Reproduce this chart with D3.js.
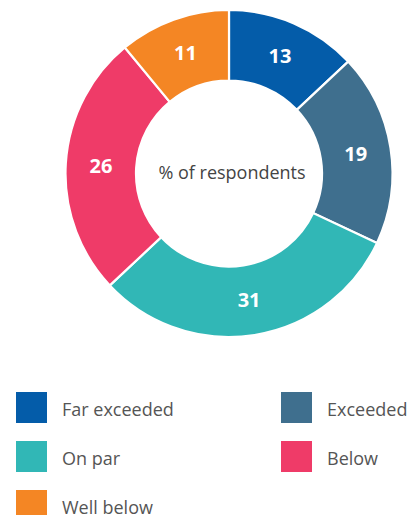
<!DOCTYPE html>
<html><head><meta charset="utf-8">
<script src="https://cdn.jsdelivr.net/npm/d3@7"></script>
<style>
html,body{margin:0;padding:0;background:#fff;}
svg{display:block;font-family:"Open Sans",sans-serif;}
</style></head>
<body><svg id="c" width="411" height="515"></svg>
<script>
const categories = ["Far exceeded","Exceeded","On par","Below","Well below"];
const values = [13,19,31,26,11];
const colors = ["#045CA9","#3F6F8E","#31B7B6","#EF3B68","#F48624"];
const centerLabel = "% of respondents";

const svg = d3.select("#c");
const cx = 229, cy = 173.5, R = 163.5, r = 93;
const g = svg.append("g").attr("transform", `translate(${cx},${cy})`);
const data = categories.map((c,i)=>({cat:c, v:values[i], col:colors[i]}));
const pie = d3.pie().value(d=>d.v).sort(null);
const arc = d3.arc().innerRadius(r).outerRadius(R);
const arcs = pie(data);
g.selectAll("path").data(arcs).join("path")
  .attr("d", arc).attr("fill", d=>d.data.col)
  .attr("stroke","#fff").attr("stroke-width",2.2);
g.selectAll("text.v").data(arcs).join("text").attr("class","v")
  .attr("transform", d=>`translate(${arc.centroid(d)})`)
  .attr("text-anchor","middle").attr("dy","0.36em")
  .attr("fill","#fff").attr("font-weight","bold").attr("font-size",20)
  .text(d=>d.data.v);
g.append("text").attr("text-anchor","middle").attr("x",3).attr("y",5)
  .attr("fill","#444").attr("font-size",18).text(centerLabel);

const leg = svg.append("g");
const colX = [16, 281], rowY0 = 392, rowH = 49, sq = 31;
data.forEach((d,i)=>{
  const col = i%2, row = Math.floor(i/2);
  const x = colX[col], y = rowY0 + row*rowH;
  leg.append("rect").attr("x",x).attr("y",y).attr("width",sq).attr("height",sq).attr("fill",d.col);
  leg.append("text").attr("x",x+46).attr("y",y+24).attr("font-size",18).attr("fill","#555").text(d.cat);
});
</script></body></html>
